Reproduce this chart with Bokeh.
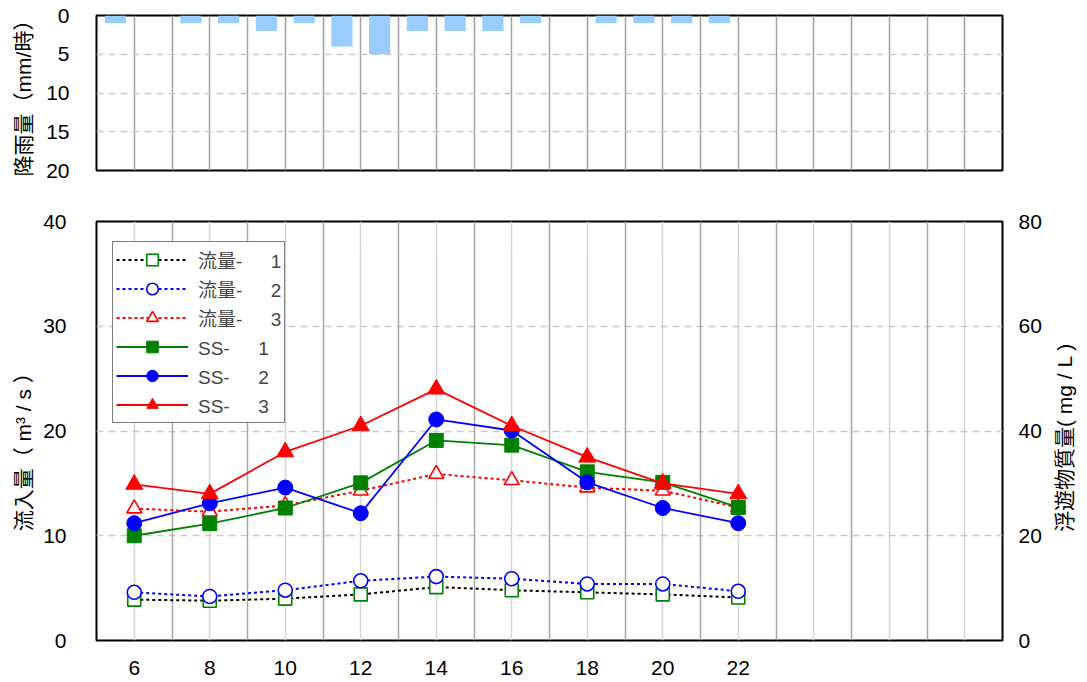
import math
from bokeh.plotting import figure
from bokeh.models import (Range1d, LinearAxis, FixedTicker, Grid, Legend, LegendItem,
                          ColumnDataSource, Label)
from bokeh.transform import dodge
from bokeh.layouts import column
from bokeh.embed import file_html
from bokeh.resources import INLINE

# ---- data ----
rain_hours = list(range(5, 29))
rain_mm = [1, 0, 1, 1, 2, 1, 4, 5, 2, 2, 2, 1, 0, 1, 1, 1, 1, 0, 0, 0, 0, 0, 0, 0]

hours = [6, 8, 10, 12, 14, 16, 18, 20, 22]
flow1 = [3.9, 3.8, 4.0, 4.4, 5.1, 4.8, 4.6, 4.4, 4.1]
flow2 = [4.6, 4.2, 4.8, 5.7, 6.1, 5.9, 5.4, 5.4, 4.7]
flow3 = [12.6, 12.3, 12.9, 14.3, 15.9, 15.3, 14.6, 14.3, 12.7]
ss1 = [20.0, 22.3, 25.3, 30.1, 38.2, 37.3, 32.2, 30.2, 25.4]
ss2 = [22.4, 26.2, 29.2, 24.3, 42.2, 40.1, 30.2, 25.3, 22.4]
ss3 = [29.8, 28.0, 36.0, 41.0, 48.0, 41.0, 35.0, 30.0, 28.0]

labels = ["流量-\u3000\u20021", "流量-\u3000\u20022", "流量-\u3000\u20023",
          "SS-\u3000\u20021", "SS-\u3000\u20022", "SS-\u3000\u20023"]

FONT = "'Liberation Sans', 'Noto Sans CJK JP'"
TICK_FS = "21px"
TITLE_FS = "21px"


def style_axis(ax, standoff, label_standoff):
    ax.major_tick_out = 0
    ax.major_tick_in = 0
    ax.minor_tick_out = 0
    ax.minor_tick_in = 0
    ax.axis_line_color = None
    ax.major_label_text_font = FONT
    ax.major_label_text_font_size = TICK_FS
    ax.major_label_text_color = "black"
    ax.major_label_standoff = standoff
    ax.axis_label_text_font = FONT
    ax.axis_label_text_font_size = TITLE_FS
    ax.axis_label_text_font_style = "normal"
    ax.axis_label_text_color = "black"
    ax.axis_label_standoff = label_standoff


# ---- top: rainfall ----
p1 = figure(frame_width=906, frame_height=155, x_range=Range1d(5, 29), y_range=Range1d(20, 0),
            output_backend="svg", toolbar_location=None, x_axis_location=None,
            min_border_left=96, min_border_right=85, min_border_top=15, min_border_bottom=10)
src_rain = ColumnDataSource(dict(h=rain_hours, r=rain_mm))
p1.vbar(x=dodge("h", 0.5, range=p1.x_range), top="r", bottom=0, width=0.56,
        fill_color="#99CCFF", line_color=None, source=src_rain)
p1.xgrid.ticker = FixedTicker(ticks=list(range(6, 29)))
p1.xgrid.grid_line_color = "#a0a0a0"
p1.xgrid.grid_line_width = 1.5
p1.ygrid.ticker = FixedTicker(ticks=[5, 10, 15])
p1.ygrid.grid_line_color = "#cccccc"
p1.ygrid.grid_line_dash = "7 5"
p1.ygrid.grid_line_width = 1.5
p1.yaxis.ticker = FixedTicker(ticks=[0, 5, 10, 15, 20])
p1.yaxis.axis_label = "降雨量（mm/時）"
style_axis(p1.yaxis[0], 27, 8)
p1.outline_line_color = "black"
p1.outline_line_width = 2

# ---- bottom: flow & SS ----
p2 = figure(frame_width=906, frame_height=419, x_range=Range1d(5, 29), y_range=Range1d(0, 40),
            output_backend="svg", toolbar_location=None,
            min_border_left=96, min_border_right=85, min_border_top=41, min_border_bottom=42)
p2.extra_y_ranges = {"ss": Range1d(0, 80)}
p2.yaxis.ticker = FixedTicker(ticks=[0, 10, 20, 30, 40])
p2.yaxis.axis_label = "流入量（ m³ / s ）\u3000\u3000"
style_axis(p2.yaxis[0], 30, 5)
p2.xaxis.ticker = FixedTicker(ticks=hours)
style_axis(p2.xaxis[0], 20, 0)

rax = LinearAxis(y_range_name="ss", ticker=FixedTicker(ticks=[0, 20, 40, 60, 80]))
style_axis(rax, 16, 10)
p2.add_layout(rax, "right")

# right-axis title (reads bottom-to-top), in the right side panel next to the axis
p2.add_layout(Label(x=20, y=203, x_units="screen", y_units="screen",
                    text="浮遊物質量( mg / L )", angle=math.pi / 2,
                    text_align="center", text_baseline="middle",
                    text_font=FONT, text_font_size=TITLE_FS, text_color="black"), "right")

p2.xgrid.ticker = FixedTicker(ticks=list(range(6, 29, 2)))
p2.xgrid.grid_line_color = "#d4d4d4"
p2.xgrid.grid_line_width = 1.5
odd_grid = Grid(dimension=0, ticker=FixedTicker(ticks=list(range(7, 29, 2))),
                grid_line_color="#a6a6a6", grid_line_width=1.5)
p2.add_layout(odd_grid, "center")
p2.ygrid.ticker = FixedTicker(ticks=[10, 20, 30])
p2.ygrid.grid_line_color = "#cccccc"
p2.ygrid.grid_line_dash = "7 5"
p2.ygrid.grid_line_width = 1.5
p2.outline_line_color = "black"
p2.outline_line_width = 2

DOT = "3 3"
l1 = p2.line(hours, flow1, line_color="black", line_dash=DOT, line_width=2)
m1 = p2.scatter(hours, flow1, marker="square", size=13, line_color="green", fill_color="white", line_width=1.6)
l2 = p2.line(hours, flow2, line_color="blue", line_dash=DOT, line_width=2)
m2 = p2.scatter(hours, flow2, marker="circle", size=14, line_color="blue", fill_color="white", line_width=1.6)
l3 = p2.line(hours, flow3, line_color="red", line_dash=DOT, line_width=2)
m3 = p2.scatter(hours, flow3, marker="triangle", size=15, line_color="red", fill_color="white", line_width=1.6)

l4 = p2.line(hours, ss1, line_color="green", line_width=1.8, y_range_name="ss")
m4 = p2.scatter(hours, ss1, marker="square", size=14, line_color="green", fill_color="green", y_range_name="ss")
l5 = p2.line(hours, ss2, line_color="blue", line_width=1.8, y_range_name="ss")
m5 = p2.scatter(hours, ss2, marker="circle", size=15, line_color="blue", fill_color="blue", y_range_name="ss")
l6 = p2.line(hours, ss3, line_color="red", line_width=1.8, y_range_name="ss")
m6 = p2.scatter(hours, ss3, marker="triangle", size=17, line_color="red", fill_color="red", y_range_name="ss")

items = [LegendItem(label=lab, renderers=[l, m]) for lab, l, m in
         zip(labels, [l1, l2, l3, l4, l5, l6], [m1, m2, m3, m4, m5, m6])]
legend = Legend(items=items, location=(16, 217), border_line_color="black", border_line_width=1,
                background_fill_color="white", background_fill_alpha=1.0,
                label_text_font=FONT, label_text_font_size="19px",
                glyph_width=72, glyph_height=29, label_height=20, spacing=0,
                padding=3, margin=0, label_standoff=10)
p2.add_layout(legend)

layout = column(p1, p2)
open("out.html", "w").write(file_html(layout, INLINE))
